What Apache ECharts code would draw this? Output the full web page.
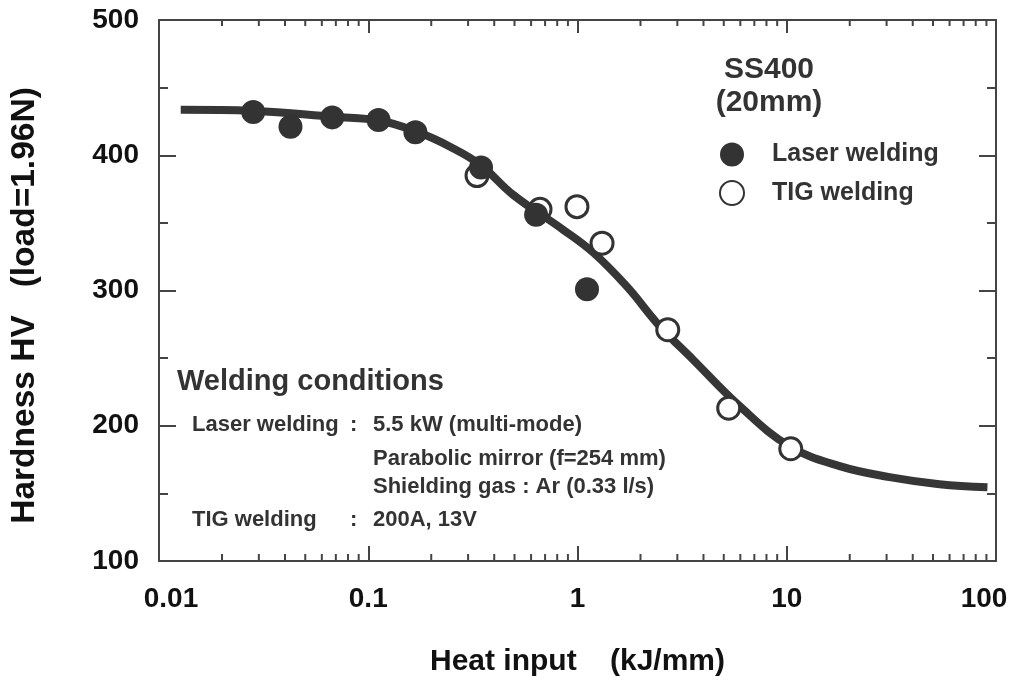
<!DOCTYPE html>
<html><head><meta charset="utf-8">
<script src="https://cdn.jsdelivr.net/npm/echarts@6/dist/echarts.min.js"></script>
<style>html,body{margin:0;padding:0;background:#fff}#c{width:1019px;height:682px}</style>
</head><body><div id="c"></div>
<script>
// ---- data ----
const xTickLabels = ['0.01', '0.1', '1', '10', '100'];
const laserX = [0.0282, 0.0425, 0.0673, 0.112, 0.168, 0.346, 0.634, 1.11];
const laserY = [432, 421, 428, 426, 417, 391, 356, 301];
const tigX = [0.331, 0.662, 0.994, 1.31, 2.70, 5.28, 10.45];
const tigY = [385, 360, 362, 335, 271, 213, 183];
const curveX = [0.0127, 0.0282, 0.0681, 0.114, 0.171, 0.246, 0.343, 0.492, 0.853, 1.19, 1.72, 2.48, 3.56, 5.97, 10.3, 17.9, 31.0, 53.7, 91.0];
const curveY = [433.6, 432.8, 428.4, 425.5, 417.3, 406.3, 393.0, 370.8, 345.0, 328.0, 303.0, 273.4, 249.0, 214.4, 184.9, 170.1, 162.0, 156.8, 154.6];
const minorTickX = [0.02, 0.03, 0.04, 0.05, 0.06, 0.07, 0.08, 0.09,
  0.2, 0.3, 0.4, 0.5, 0.6, 0.7, 0.8, 0.9,
  2, 3, 4, 5, 6, 7, 8, 9,
  20, 30, 40, 50, 60, 70, 80, 90];
const seriesNames = ['Laser welding', 'TIG welding'];
const materialText = 'SS400\n(20mm)';
const condTitle = 'Welding conditions';
const condLeft = ['Laser welding', 'TIG welding'];
const condRight = ['5.5 kW (multi-mode)', 'Parabolic mirror (f=254 mm)', 'Shielding gas : Ar (0.33 l/s)', '200A, 13V'];

const FONT = '"Liberation Sans", Arial, Helvetica, sans-serif';
const INK = '#333';
const chart = echarts.init(document.getElementById('c'), null, {renderer: 'canvas'});

const labelRich = {
  n: {fontSize: 28, fontWeight: 'bold', fontFamily: FONT, color: '#111'},
  l: {fontSize: 28, fontWeight: 'bold', fontFamily: FONT, color: '#111', padding: [0, 0, 0, 24]},
  r: {fontSize: 28, fontWeight: 'bold', fontFamily: FONT, color: '#111', padding: [0, 24, 0, 0]}
};

const xBase = {
  type: 'log', logBase: 10, min: 0.01, max: 100, gridIndex: 0,
  axisLine: {show: true, onZero: false, lineStyle: {color: '#444', width: 2}},
  axisTick: {show: true, inside: true, length: 15, lineStyle: {color: '#444', width: 2}},
  splitLine: {show: false}
};
const yBase = {
  type: 'value', min: 100, max: 500, interval: 100, gridIndex: 0,
  axisLine: {show: true, onZero: false, lineStyle: {color: '#444', width: 2}},
  axisTick: {show: true, inside: true, length: 17, lineStyle: {color: '#444', width: 2}},
  minorTick: {show: true, splitNumber: 2, length: 9, lineStyle: {color: '#444', width: 2}},
  splitLine: {show: false}
};

const option = {
  backgroundColor: '#fff',
  animation: false,
  grid: {left: 159, right: 23, top: 20, bottom: 120, containLabel: false},
  legend: {
    data: seriesNames, orient: 'vertical', left: 714, top: 137,
    itemWidth: 24, itemHeight: 24, itemGap: 13, icon: 'circle',
    textStyle: {fontSize: 25, fontWeight: 'bold', fontFamily: FONT, color: INK, padding: [0, 0, 0, 23]}
  },
  xAxis: [
    Object.assign({}, xBase, {
      position: 'bottom',
      name: 'Heat input    (kJ/mm)', nameLocation: 'middle', nameGap: 86,
      nameTextStyle: {fontSize: 30, fontWeight: 'bold', fontFamily: FONT, color: '#111'},
      axisLabel: {
        margin: 24,
        formatter: function (v) {
          const i = Math.round(Math.log10(v)) + 2;
          const s = xTickLabels[i];
          if (s === undefined) return '';
          if (i === 0) return '{l|' + s + '}';
          if (i === xTickLabels.length - 1) return '{r|' + s + '}';
          return '{n|' + s + '}';
        },
        rich: labelRich
      }
    }),
    Object.assign({}, xBase, {position: 'top', axisLabel: {show: false}, axisTick: {show: true, inside: true, length: 13, lineStyle: {color: '#444', width: 2}}})
  ],
  yAxis: [
    Object.assign({}, yBase, {
      position: 'left',
      name: 'Hardness HV   (load=1.96N)', nameLocation: 'middle', nameRotate: 90, nameGap: 117,
      nameTextStyle: {fontSize: 33.5, fontWeight: 'bold', fontFamily: FONT, color: '#111', padding: [0, 30, 0, 0]},
      axisLabel: {margin: 20, fontSize: 28, fontWeight: 'bold', fontFamily: FONT, color: '#111'}
    }),
    Object.assign({}, yBase, {position: 'right', axisLabel: {show: false}})
  ],
  graphic: [
    {type: 'text', left: 769 - 60, top: 53, style: {text: materialText, x: 0, y: 0, width: 120, align: 'center', textAlign: 'center', font: 'bold 30px ' + FONT, fill: INK, lineHeight: 33}},
    {type: 'text', left: 177, top: 367, style: {text: condTitle, font: 'bold 29px ' + FONT, fill: INK}},
    {type: 'text', left: 192, top: 414, style: {text: condLeft[0], font: 'bold 22px ' + FONT, fill: INK}},
    {type: 'text', left: 350, top: 414, style: {text: ':', font: 'bold 22px ' + FONT, fill: INK}},
    {type: 'text', left: 373, top: 414, style: {text: condRight[0], font: 'bold 22px ' + FONT, fill: INK}},
    {type: 'text', left: 373, top: 448, style: {text: condRight[1], font: 'bold 22px ' + FONT, fill: INK}},
    {type: 'text', left: 373, top: 476, style: {text: condRight[2], font: 'bold 22px ' + FONT, fill: INK}},
    {type: 'text', left: 192, top: 509, style: {text: condLeft[1], font: 'bold 22px ' + FONT, fill: INK}},
    {type: 'text', left: 350, top: 509, style: {text: ':', font: 'bold 22px ' + FONT, fill: INK}},
    {type: 'text', left: 373, top: 509, style: {text: condRight[3], font: 'bold 22px ' + FONT, fill: INK}}
  ],
  series: [
    {
      type: 'custom', name: 'minorTicks', silent: true, xAxisIndex: 0, yAxisIndex: 0,
      data: minorTickX.map(v => [v, 300]),
      renderItem: function (params, api) {
        const x = api.coord([api.value(0), 300])[0];
        const cs = params.coordSys;
        const top = cs.y, bottom = cs.y + cs.height;
        const st = {stroke: '#444', lineWidth: 2};
        return {type: 'group', children: [
          {type: 'line', shape: {x1: x, y1: bottom, x2: x, y2: bottom - 7}, style: st},
          {type: 'line', shape: {x1: x, y1: top, x2: x, y2: top + 6}, style: st}
        ]};
      }
    },
    {
      type: 'line', name: 'fit', smooth: 0.4, symbol: 'none', silent: true,
      data: curveX.map((x, i) => [x, curveY[i]]),
      lineStyle: {color: '#363636', width: 8, cap: 'butt'}, z: 2
    },
    {
      type: 'scatter', name: seriesNames[1], symbol: 'circle', symbolSize: 22,
      data: tigX.map((x, i) => [x, tigY[i]]),
      itemStyle: {color: '#fff', borderColor: '#333', borderWidth: 3, opacity: 1}, z: 3
    },
    {
      type: 'scatter', name: seriesNames[0], symbol: 'circle', symbolSize: 24,
      data: laserX.map((x, i) => [x, laserY[i]]),
      itemStyle: {color: '#333', opacity: 1}, z: 4
    }
  ]
};
chart.setOption(option);
</script>
</body></html>
